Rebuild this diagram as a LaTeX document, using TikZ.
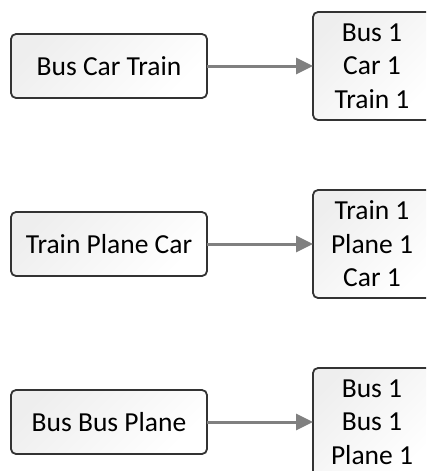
\documentclass[tikz,border=0pt]{standalone}
\usepackage{fontspec}
\setmainfont{Carlito}
\usetikzlibrary{arrows.meta,positioning}

\begin{document}
\begin{tikzpicture}[
    x=1pt, y=1pt,
    node distance=114pt and 106pt,
    box/.style={rectangle, draw=black!80, line width=1.8pt, rounded corners=5pt,
                left color=gray!13, right color=white, shading angle=45,
                align=center, inner sep=0pt, outer sep=0pt,
                font=\fontsize{27.5}{33.5}\selectfont},
    inbox/.style={box, minimum width=196pt, minimum height=64pt},
    outbox/.style={box, minimum width=118pt, minimum height=108pt},
    flow/.style={-{Triangle[length=17pt, width=16pt]}, draw=gray, line width=3pt}
  ]
  \clip (0,0) rectangle (426,-471);

  % input sequences
  \node[inbox] (bct) at (109,-66) {Bus Car Train};
  \node[inbox, below=of bct] (tpc) {Train Plane Car};
  \node[inbox, below=of tpc] (bbp) {Bus Bus Plane};

  % counts
  \node[outbox, right=of bct] (bctout) {Bus 1\\Car 1\\Train 1};
  \node[outbox, right=of tpc] (tpcout) {Train 1\\Plane 1\\Car 1};
  \node[outbox, right=of bbp] (bbpout) {Bus 1\\Bus 1\\Plane 1};

  \draw[flow] (bct) -- (bctout);
  \draw[flow] (tpc) -- (tpcout);
  \draw[flow] (bbp) -- (bbpout);
\end{tikzpicture}
\end{document}
